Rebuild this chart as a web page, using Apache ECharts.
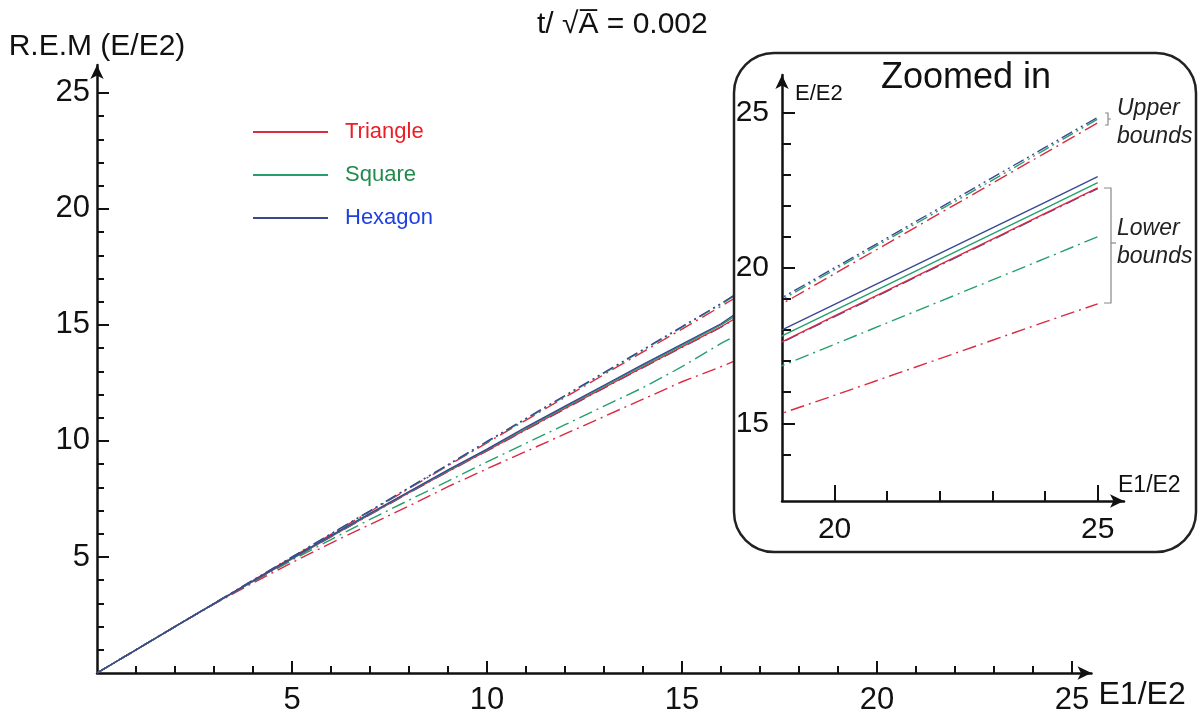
<!DOCTYPE html>
<html>
<head>
<meta charset="utf-8">
<script src="https://cdn.jsdelivr.net/npm/echarts@6/dist/echarts.min.js"></script>
<style>
html,body{margin:0;padding:0;background:#fff}
#main{width:1200px;height:719px}
</style>
</head>
<body>
<div id="main"></div>
<script>
// E1/E2 sample points
var e1e2 = [0,1,2,3,4,5,6,7,8,9,10,11,12,13,14,15,16,17,18,19,20,21,22,23,24,25];

// R.E.M values
var triangle = [0,1,2,2.98,3.95,4.92,5.88,6.83,7.77,8.69,9.58,10.5,11.4,12.3,13.18,14.05,14.92,15.9,16.78,17.62,18.45,19.27,20.1,20.92,21.75,22.57];
var square = [0,1,2,2.99,3.96,4.93,5.9,6.86,7.8,8.72,9.62,10.55,11.46,12.36,13.25,14.12,15.0,16.05,16.95,17.81,18.63,19.45,20.27,21.09,21.91,22.74];
var hexagon = [0,1,2,2.99,3.97,4.95,5.92,6.88,7.82,8.75,9.65,10.6,11.5,12.4,13.3,14.17,15.05,16.2,17.1,18.0,18.82,19.64,20.46,21.28,22.1,22.93];

var triangleUpper = [0,1,2,2.99,3.99,4.98,5.97,6.96,7.95,8.94,9.92,10.9,11.88,12.86,13.84,14.82,15.8,16.8,17.82,18.84,19.81,20.78,21.75,22.72,23.69,24.66];
var squareUpper = [0,1,2,3,4,4.99,5.99,6.98,7.97,8.96,9.95,10.94,11.93,12.92,13.91,14.9,15.89,16.95,17.96,18.98,19.94,20.9,21.86,22.82,23.8,24.78];
var hexagonUpper = [0,1,2,3,4,5,6,6.99,7.99,8.98,9.98,10.97,11.96,12.95,13.94,14.93,15.92,17.0,18.02,19.04,20.0,20.96,21.93,22.9,23.87,24.84];

var triangleLower = [0,1,2,2.97,3.88,4.76,5.6,6.4,7.2,8.03,8.8,9.55,10.3,11.05,11.8,12.55,13.2,13.9,14.6,15.32,15.9,16.49,17.08,17.67,18.26,18.84];
var squareLower = [0,1,2,2.98,3.93,4.86,5.75,6.62,7.45,8.27,9.1,9.9,10.7,11.5,12.3,13.2,14.2,15.1,16.0,16.85,17.54,18.23,18.92,19.61,20.3,21.0];
var hexagonLower = [0,1,2,2.98,3.95,4.91,5.87,6.82,7.76,8.68,9.57,10.48,11.38,12.28,13.16,14.03,14.9,15.88,16.76,17.6,18.43,19.25,20.08,20.9,21.73,22.55];

// tick labels
var mainMajor = [5,10,15,20,25];
var mainMinor = e1e2.slice(1);
var zoomXMajor = [20,25];
var zoomXMinor = [21,22,23,24];
var zoomYMajor = [15,20,25];
var zoomYMinor = [14,16,17,18,19,21,22,23,24];

var RED = '#dc2a42', GREEN = '#25a06c', BLUE = '#3a4894';
var FONT = 'Liberation Sans, Arial, sans-serif';

var dashDot = [14,5,2,5];
var dashDotDot = [12,4,2,4,2,4];

function pairs(ys){
	var a = [];
	for(var i=0;i<e1e2.length;i++){
		a.push([e1e2[i], ys[i]]);
	}
	return a;
}

function line(name, ys, color, type, inset){
	return {
		name: name,
		type: 'line',
		xAxisIndex: inset ? 2 : 0,
		yAxisIndex: inset ? 2 : 0,
		data: pairs(ys),
		symbol: 'none',
		showSymbol: false,
		silent: true,
		clip: true,
		z: inset ? 12 : 2,
		itemStyle: {color: color},
		lineStyle: {color: color, width: 1.4, type: type}
	};
}

function allLines(inset){
	var sfx = inset ? ' (zoom)' : '';
	return [
		line('Triangle upper'+sfx, triangleUpper, RED, dashDot, inset),
		line('Square upper'+sfx, squareUpper, GREEN, dashDotDot, inset),
		line('Hexagon upper'+sfx, hexagonUpper, BLUE, dashDotDot, inset),
		line('Triangle lower'+sfx, triangleLower, RED, dashDot, inset),
		line('Square lower'+sfx, squareLower, GREEN, dashDot, inset),
		line('Hexagon lower'+sfx, hexagonLower, BLUE, dashDot, inset),
		line(inset ? 'Triangle'+sfx : 'Triangle', triangle, RED, 'solid', inset),
		line(inset ? 'Square'+sfx : 'Square', square, GREEN, 'solid', inset),
		line(inset ? 'Hexagon'+sfx : 'Hexagon', hexagon, BLUE, 'solid', inset)
	];
}

var axisLineStyle = {color: '#111', width: 2.5};

function minorAxis(opts){
	return Object.assign({
		type: 'value',
		axisLine: {show: true, onZero: false, symbol: ['none','arrow'], symbolSize: [10,14], lineStyle: axisLineStyle},
		axisTick: {show: true, inside: true, length: 7, lineStyle: {color: '#111', width: 2}},
		axisLabel: {show: false},
		splitLine: {show: false}
	}, opts);
}
function majorAxis(opts, tickLen, values, size, margin){
	return Object.assign({
		type: 'value',
		axisLine: {show: false, onZero: false},
		axisTick: {show: true, inside: true, length: tickLen, customValues: values, lineStyle: {color: '#111', width: 2}},
		axisLabel: {show: true, customValues: values, color: '#111', fontSize: size, fontFamily: FONT, margin: margin},
		splitLine: {show: false}
	}, opts);
}

var option = {
	backgroundColor: '#fff',
	animation: false,
	title: {
		text: 't/ \u221AA\u0305 = 0.002',
		left: 532, top: 5,
		textStyle: {fontSize: 30, fontWeight: 'normal', color: '#111', fontFamily: FONT}
	},
	legend: {
		orient: 'vertical',
		left: 248, top: 116,
		icon: 'rect',
		itemWidth: 75, itemHeight: 2,
		itemGap: 21,
		textStyle: {fontSize: 22, fontFamily: FONT, padding: [0,0,0,12]},
		data: [
			{name: 'Triangle', textStyle: {color: '#ee1c25'}},
			{name: 'Square', textStyle: {color: '#1f8c4c'}},
			{name: 'Hexagon', textStyle: {color: '#1f3fe0'}}
		]
	},
	grid: [
		{left: 97, top: 65, width: 994.5, height: 608, containLabel: false, outerBoundsMode: 'none'},
		{left: 782, top: 75, width: 342, height: 426, containLabel: false, outerBoundsMode: 'none'}
	],
	xAxis: [
		minorAxis({gridIndex: 0, min: 0, max: 25.5, position: 'bottom',
			axisTick: {show: true, inside: true, length: 7, customValues: mainMinor, lineStyle: {color: '#111', width: 2}},
			name: 'E1/E2', nameLocation: 'end', nameGap: 7,
			nameTextStyle: {fontSize: 32, color: '#111', fontFamily: FONT, verticalAlign: 'top', padding: [6,0,0,0]}}),
		majorAxis({gridIndex: 0, min: 0, max: 25.5, position: 'bottom'}, 12, mainMajor, 31, 12),
		minorAxis({gridIndex: 1, min: 19, max: 25.5, position: 'bottom', z: 10,
			axisTick: {show: true, inside: true, length: 10, customValues: zoomXMinor, lineStyle: {color: '#111', width: 2}},
			name: 'E1/E2', nameLocation: 'end', nameGap: -6,
			nameTextStyle: {fontSize: 23, color: '#111', fontFamily: FONT, verticalAlign: 'bottom', padding: [0,0,4,0]}}),
		majorAxis({gridIndex: 1, min: 19, max: 25.5, position: 'bottom', z: 10}, 16, zoomXMajor, 30, 14)
	],
	yAxis: [
		minorAxis({gridIndex: 0, min: 0, max: 26.2, position: 'left',
			axisTick: {show: true, inside: true, length: 7, customValues: mainMinor, lineStyle: {color: '#111', width: 2}},
			name: 'R.E.M (E/E2)', nameLocation: 'end', nameGap: 3,
			nameTextStyle: {fontSize: 30, color: '#111', fontFamily: FONT}}),
		majorAxis({gridIndex: 0, min: 0, max: 26.2, position: 'left'}, 12, mainMajor, 31, 7),
		minorAxis({gridIndex: 1, min: 12.5, max: 26.2, position: 'left', z: 10,
			axisTick: {show: true, inside: true, length: 9, customValues: zoomYMinor, lineStyle: {color: '#111', width: 2}},
			name: 'E/E2', nameLocation: 'end', nameGap: -8,
			nameTextStyle: {fontSize: 22, color: '#111', fontFamily: FONT, align: 'left', verticalAlign: 'top', padding: [0,0,0,13]}}),
		majorAxis({gridIndex: 1, min: 12.5, max: 26.2, position: 'left', z: 10}, 13, zoomYMajor, 30, 13)
	],
	graphic: [
		{type: 'rect', z: 5, shape: {x: 734, y: 53, width: 462, height: 499, r: 40},
			style: {fill: '#fff', stroke: '#222', lineWidth: 2.5}},
		{type: 'text', z: 20, x: 966, y: 78, style: {text: 'Zoomed in', font: '36px Liberation Sans, Arial, sans-serif', fill: '#111', align: 'center', verticalAlign: 'middle'}},
		{type: 'text', z: 20, x: 1117, y: 109, style: {text: 'Upper', font: 'italic 23px Liberation Sans, Arial, sans-serif', fill: '#222', verticalAlign: 'middle'}},
		{type: 'text', z: 20, x: 1117, y: 137, style: {text: 'bounds', font: 'italic 23px Liberation Sans, Arial, sans-serif', fill: '#222', verticalAlign: 'middle'}},
		{type: 'text', z: 20, x: 1117, y: 229, style: {text: 'Lower', font: 'italic 23px Liberation Sans, Arial, sans-serif', fill: '#222', verticalAlign: 'middle'}},
		{type: 'text', z: 20, x: 1117, y: 257, style: {text: 'bounds', font: 'italic 23px Liberation Sans, Arial, sans-serif', fill: '#222', verticalAlign: 'middle'}},
		{type: 'polyline', z: 20, shape: {points: [[1105,113],[1108,113],[1108,119],[1111,119],[1108,119],[1108,125],[1105,125]]},
			style: {stroke: '#888', lineWidth: 1.2, fill: null}},
		{type: 'polyline', z: 20, shape: {points: [[1104,188],[1111,188],[1111,303],[1104,303]]},
			style: {stroke: '#888', lineWidth: 1.2, fill: null}},
		{type: 'line', z: 20, shape: {x1: 1111, y1: 243, x2: 1116, y2: 243},
			style: {stroke: '#888', lineWidth: 1.2}}
	],
	series: allLines(false).concat(allLines(true))
};

var myChart = echarts.init(document.getElementById('main'));
myChart.setOption(option);
</script>
</body>
</html>
